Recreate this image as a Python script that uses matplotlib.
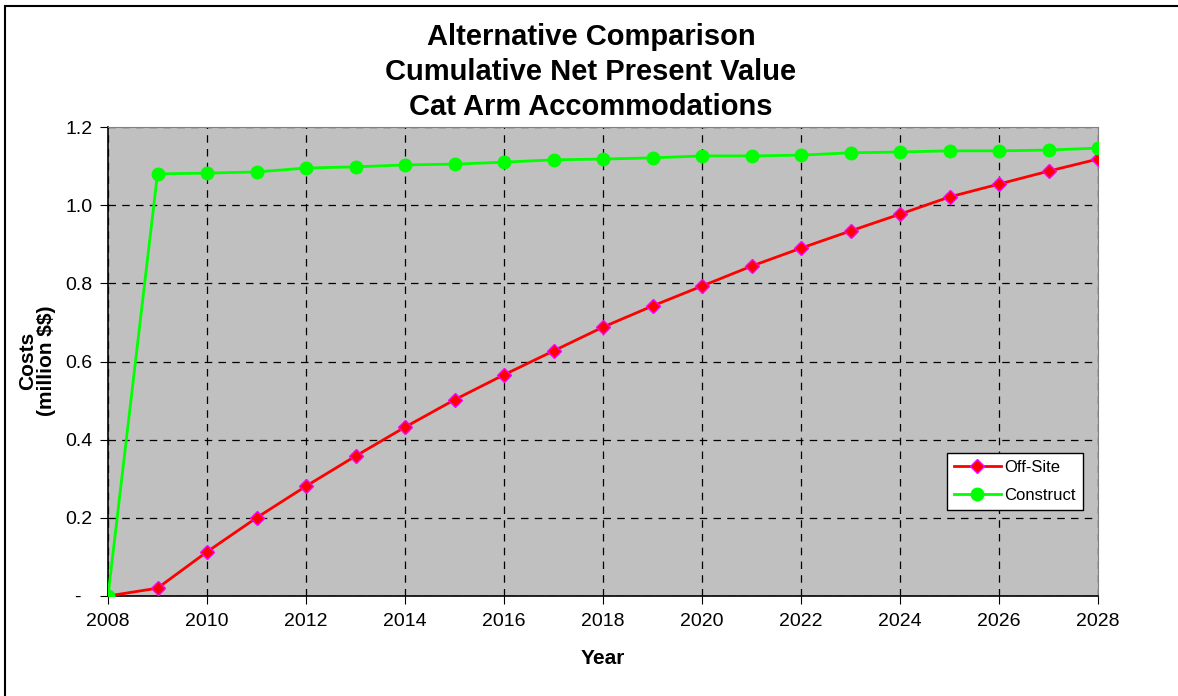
import numpy as np
import matplotlib.pyplot as plt
from matplotlib.patches import Rectangle

plt.rcParams['font.family'] = ['Liberation Sans', 'DejaVu Sans']

years = list(range(2008, 2029))
off_site = [0.0, 0.020, 0.113, 0.200, 0.281, 0.358, 0.432, 0.502, 0.566, 0.627,
            0.688, 0.742, 0.793, 0.844, 0.890, 0.934, 0.977, 1.021, 1.054, 1.087, 1.118]
construct = [0.0, 1.080, 1.082, 1.085, 1.095, 1.098, 1.103, 1.105, 1.110, 1.116,
             1.118, 1.121, 1.126, 1.126, 1.128, 1.134, 1.136, 1.139, 1.139, 1.141, 1.146]
y_ticks = [0, 0.2, 0.4, 0.6, 0.8, 1.0, 1.2]
y_labels = ['-  ', '0.2', '0.4', '0.6', '0.8', '1.0', '1.2']

W, H = 1178, 696
fig = plt.figure(figsize=(W / 100, H / 100), dpi=100)
ax = fig.add_axes([108 / W, 1 - 596 / H, 990 / W, 469 / H])

# outer chart border (only top and left edges show in the frame)
fig.patches.append(Rectangle((5 / W, -0.05), 1.2, 1 - 6 / H + 0.05,
                             transform=fig.transFigure, fill=False,
                             edgecolor='black', linewidth=1.5))

ax.set_facecolor('#C0C0C0')
ax.plot(years, off_site, color='red', linewidth=2, marker='D', markersize=7,
        markerfacecolor='red', markeredgecolor='magenta', markeredgewidth=1,
        label='Off-Site', zorder=3)
ax.plot(years, construct, color='#00FF00', linewidth=2, marker='o', markersize=9,
        markerfacecolor='#00FF00', markeredgecolor='#00FF00',
        label='Construct', zorder=3)

ax.set_xlim(2008, 2028)
ax.set_ylim(0, 1.2)
ax.set_xticks(range(2008, 2029, 2))
ax.set_yticks(y_ticks)
ax.set_yticklabels(y_labels)
ax.tick_params(labelsize=14, direction='out', length=6, color='black')
ax.tick_params(axis='x', pad=6)
ax.tick_params(axis='y', pad=5)
ax.grid(True, color='black', linestyle=(0, (6, 5)), linewidth=0.9)
ax.set_axisbelow(True)

for s in ['top', 'right']:
    ax.spines[s].set_color('#808080')
for s in ['left', 'bottom']:
    ax.spines[s].set_color('black')
    ax.spines[s].set_linewidth(1.2)

ax.set_xlabel('Year', fontsize=15, fontweight='bold', labelpad=14)
fig.text(37 / W, 1 - 361 / H, 'Costs\n(million \\$\\$)', fontsize=15, fontweight='bold',
         rotation=90, ha='center', va='center', linespacing=0.95)
fig.text(591 / W, 1 - 72 / H,
         'Alternative Comparison\nCumulative Net Present Value\nCat Arm Accommodations',
         fontsize=21, fontweight='bold', ha='center', va='center', linespacing=1.3)

leg = ax.legend(loc='lower right', bbox_to_anchor=(0.985, 0.183), borderaxespad=0,
                fontsize=12, frameon=True, fancybox=False, edgecolor='black',
                framealpha=1, handlelength=2.8, borderpad=0.45, labelspacing=0.75,
                handletextpad=0.2)
leg.get_frame().set_linewidth(1)

fig.savefig('out.png', dpi=100)
